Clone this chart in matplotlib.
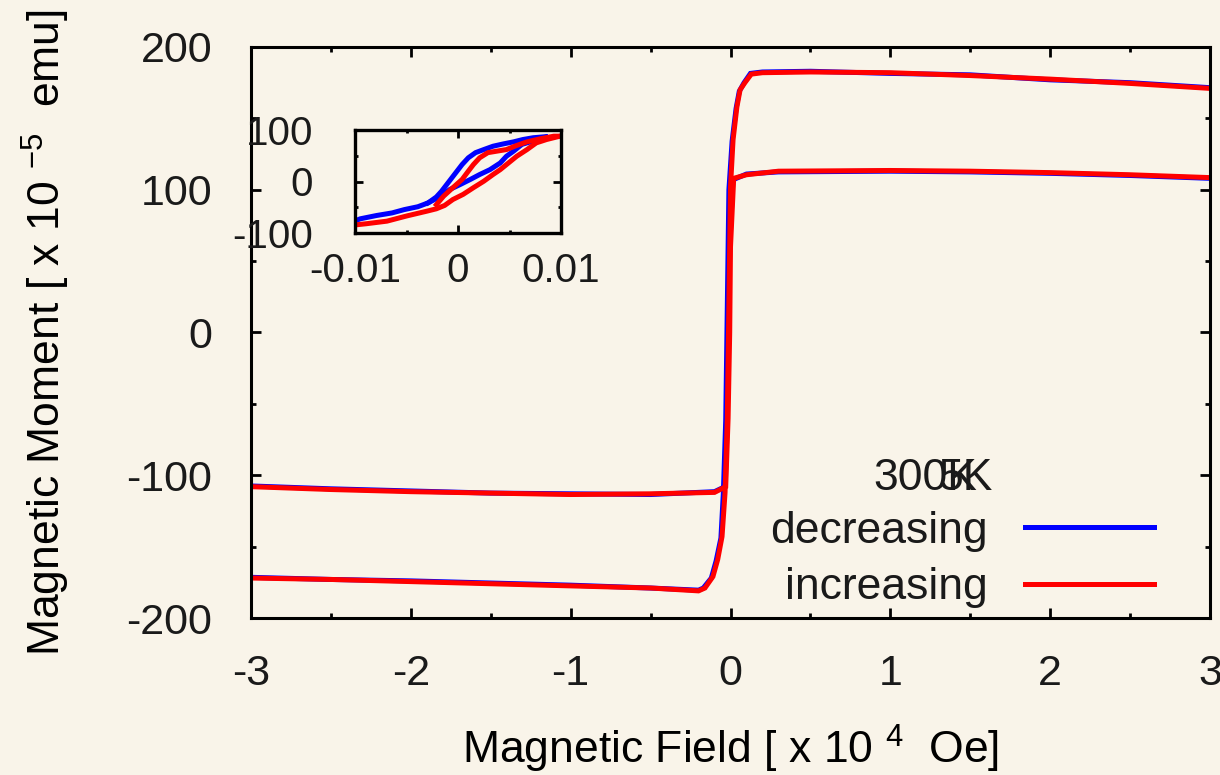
import matplotlib

matplotlib.use("Agg")
import matplotlib.pyplot as plt
from matplotlib.ticker import MultipleLocator

# ---- main loop, 5 K (field in 1e4 Oe, moment in 1e-5 emu) ----
H_5K_INC = [-3.0, -2.5, -2.0, -1.5, -1.0, -0.5, -0.2, -0.16, -0.11, -0.08, -0.053, -0.034,
            -0.02, -0.01, 0.0, 0.016, 0.04, 0.06, 0.09, 0.13, 0.2, 0.5, 1.0, 1.5, 2.0, 2.5, 3.0]
M_5K_INC = [-172, -173, -174.5, -176, -177.5, -179, -181, -179, -171, -159, -143, -112,
            -60, 20, 102, 135, 158, 170, 175, 181, 182, 182.5, 182, 180, 177.5, 174.5, 171]
H_5K_DEC = [-3.0, -2.5, -2.0, -1.5, -1.0, -0.5, -0.2, -0.17, -0.12, -0.09, -0.06, -0.045,
            -0.03, -0.02, -0.01, 0.01, 0.035, 0.055, 0.085, 0.125, 0.2, 0.5, 1.0, 1.5, 2.0, 2.5, 3.0]
M_5K_DEC = [-171.5, -173, -174, -175.5, -177, -179, -180.5, -179, -172, -160, -144, -113,
            -62, 18, 100, 134, 157, 169, 175, 181.5, 182.5, 183, 181.5, 180.5, 177, 175, 171.5]

# ---- main loop, 300 K ----
H_300K_INC = [-3.0, -2.5, -2.0, -1.5, -1.0, -0.5, -0.1, -0.03, -0.015, -0.005, 0.0, 0.02,
              0.1, 0.3, 1.0, 1.5, 2.0, 2.5, 3.0]
M_300K_INC = [-108, -110, -111.5, -112.5, -113.5, -113, -112, -108, -60, 0, 60, 108,
              110.5, 113, 113.5, 113, 112, 110.5, 108.5]
H_300K_DEC = [-3.0, -2.5, -2.0, -1.5, -1.0, -0.5, -0.1, -0.035, -0.025, -0.012, -0.005, 0.015,
              0.1, 0.3, 1.0, 1.5, 2.0, 2.5, 3.0]
M_300K_DEC = [-107.5, -109.5, -111, -112.5, -113, -113.5, -111.5, -108, -60, 0, 60, 107,
              111, 112.5, 113, 112.5, 111.5, 110, 108]

# ---- inset: low-field detail ----
INS_DEC_A_H = [-0.0103, -0.0095, -0.0079, -0.0064, -0.0052, -0.0039, -0.0029, -0.0021, -0.0016,
               -0.0011, -0.0006, -0.0001, 0.0004, 0.0010, 0.0017, 0.0025, 0.0034, 0.0044,
               0.0054, 0.0063, 0.0073, 0.0085]
INS_DEC_A_M = [-79, -72.5, -66, -61, -54.5, -49, -41.5, -30, -19, -6, 7, 20, 33, 46, 56, 62,
               68.5, 73, 77, 81.5, 85, 87]
INS_DEC_B_H = [-0.0029, -0.0018, -0.0008, 0.0002, 0.0012, 0.0021, 0.0031, 0.0041, 0.0047,
               0.0054, 0.0062, 0.0072, 0.0085]
INS_DEC_B_M = [-41.5, -30, -15.5, -6, 4, 13.5, 23, 36, 49, 59, 72, 78, 86]
INS_INC_A_H = [-0.0021, -0.0014, -0.0005, 0.0004, 0.0010, 0.0015, 0.0021, 0.0029, 0.0038,
               0.0047, 0.0057, 0.0067, 0.0080, 0.0093, 0.0100]
INS_INC_A_M = [-45, -28.5, -12, 4, 20, 33, 46, 56, 59, 62, 70, 77, 83, 88, 88]
INS_INC_B_H = [-0.0103, -0.0089, -0.0069, -0.0050, -0.0030, -0.0021, -0.0013, -0.0005, 0.0005,
               0.0015, 0.0025, 0.0034, 0.0041, 0.0049, 0.0057, 0.0067, 0.0076, 0.0086, 0.0097]
INS_INC_B_M = [-85, -82, -77, -67, -57.5, -53, -46.5, -35, -25, -12, 0.5, 13.5, 23, 36, 49,
               62, 75, 81.5, 87]

BG = "#f9f4e9"
BLUE = "#0000ff"
RED = "#ff0000"
TXT = "#1a1a1a"

plt.rcParams.update({
    "font.family": ["Liberation Sans", "DejaVu Sans"],
    "axes.unicode_minus": False,
    "mathtext.fontset": "custom",
    "mathtext.rm": "Liberation Sans",
    "mathtext.default": "regular",
    "text.color": TXT,
})

fig = plt.figure(figsize=(12.2, 7.75), dpi=100, facecolor=BG)
ax = fig.add_axes([251 / 1220, 157 / 775, 959 / 1220, 571 / 775], facecolor=BG)

lw = 3.6
ax.plot(H_5K_DEC, M_5K_DEC, color=BLUE, lw=lw, solid_joinstyle="miter")
ax.plot(H_300K_DEC, M_300K_DEC, color=BLUE, lw=lw, solid_joinstyle="miter")
l_dec = ax.lines[0]
ax.plot(H_5K_INC, M_5K_INC, color=RED, lw=lw, solid_joinstyle="miter")
ax.plot(H_300K_INC, M_300K_INC, color=RED, lw=lw, solid_joinstyle="miter")
l_inc = ax.lines[2]

ax.set_xlim(-3, 3)
ax.set_ylim(-200, 200)
ax.xaxis.set_major_locator(MultipleLocator(1))
ax.xaxis.set_minor_locator(MultipleLocator(0.5))
ax.yaxis.set_major_locator(MultipleLocator(100))
ax.yaxis.set_minor_locator(MultipleLocator(50))
ax.tick_params(which="both", direction="in", top=True, right=True, width=2, colors="black",
               labelcolor=TXT)
ax.tick_params(which="major", length=7, labelsize=31)
ax.tick_params(which="minor", length=3.5)
ax.tick_params(axis="x", pad=26)
ax.tick_params(axis="y", pad=28)
for s in ax.spines.values():
    s.set_linewidth(2.2)

ax.set_xlabel("Magnetic Field [ x 10 $^{4}$  Oe]", fontsize=32)
ax.set_ylabel("Magnetic Moment [ x 10 $^{-5}$  emu]", fontsize=32)
ax.xaxis.set_label_coords(0.5, -0.183)
ax.yaxis.set_label_coords(-0.187, 0.5)

ax.legend([l_dec, l_inc], ["decreasing", "increasing"], markerfirst=False, frameon=False,
          loc="upper left", bbox_to_anchor=(0.541, 0.188), handlelength=2.9,
          handletextpad=0.85, labelspacing=0.35, borderpad=0, borderaxespad=0, fontsize=32)
ax.text(0.757, 0.224, "300K", transform=ax.transAxes, ha="right", va="baseline", fontsize=32)
ax.text(0.773, 0.224, "5K", transform=ax.transAxes, ha="right", va="baseline", fontsize=32)

# inset
ins = fig.add_axes([355 / 1220, 542 / 775, 206 / 1220, 103 / 775], facecolor=BG)
ilw = 3.6
ins.plot(INS_DEC_A_H, INS_DEC_A_M, color=BLUE, lw=ilw)
ins.plot(INS_DEC_B_H, INS_DEC_B_M, color=BLUE, lw=ilw)
ins.plot(INS_INC_A_H, INS_INC_A_M, color=RED, lw=ilw)
ins.plot(INS_INC_B_H, INS_INC_B_M, color=RED, lw=ilw)
ins.set_xlim(-0.01, 0.01)
ins.set_ylim(-100, 100)
ins.xaxis.set_minor_locator(MultipleLocator(0.005))
ins.yaxis.set_minor_locator(MultipleLocator(50))
ins.set_xticks([-0.01, 0, 0.01], ["-0.01", "0", "0.01"])
ins.set_yticks([-100, 0, 100], ["-100", "0", "100"])
ins.tick_params(which="both", direction="in", top=True, right=True, width=2, colors="black",
                labelcolor=TXT)
ins.tick_params(which="major", length=6, labelsize=29)
ins.tick_params(which="minor", length=2.5)
ins.tick_params(axis="x", pad=14)
ins.tick_params(axis="y", pad=30)
for s in ins.spines.values():
    s.set_linewidth(2.4)

fig.savefig("out.png", dpi=100, facecolor=BG)
